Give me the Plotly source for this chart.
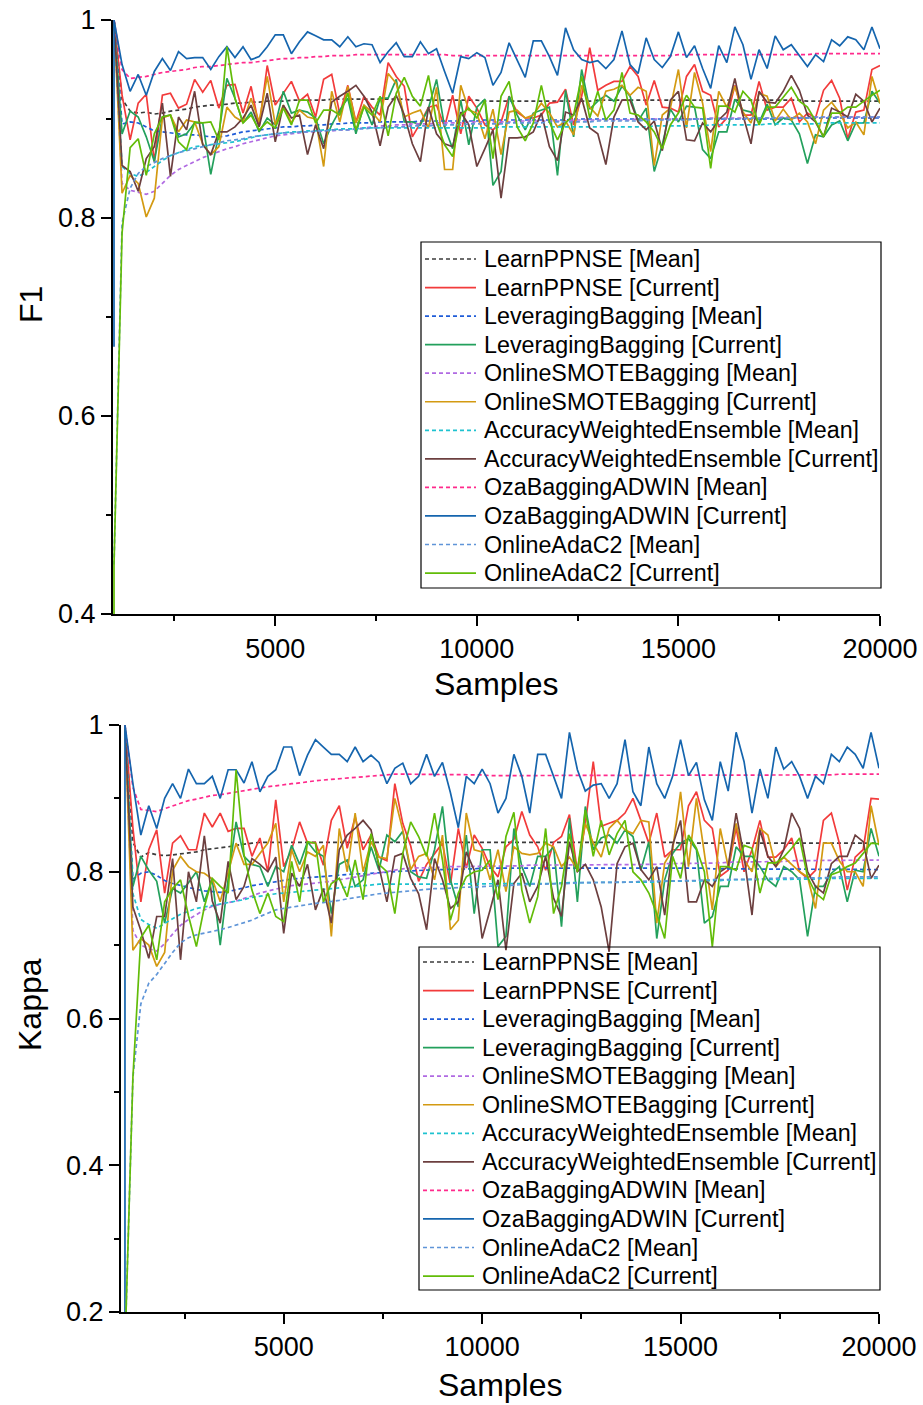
import plotly.graph_objects as go

# Evaluation points (samples seen); the 1000-sample mark is logged twice:
# once before and once after the first model update.
samples = [1000] + list(range(1000, 20001, 200))

methods = ["LearnPPNSE", "LeveragingBagging", "OnlineSMOTEBagging",
           "AccuracyWeightedEnsemble", "OzaBaggingADWIN", "OnlineAdaC2"]

# Scores logged before the first update (one per method, same order as `methods`)
f1_pre_mean = [1.0, 1.0, 1.0, 1.0, 1.0, 0.45]
f1_pre_cur = [1.0, 1.0, 1.0, 1.0, 0.67, 0.30]
k_pre_mean = [1.0, 1.0, 1.0, 1.0, 1.0, 0.15]
k_pre_cur = [1.0, 1.0, 1.0, 1.0, 0.10, 0.10]

# ---------------- F1 ----------------
f1_learn_mean = [1.0, 0.920, 0.908, 0.906, 0.907, 0.905, 0.906, 0.908, 0.909, 0.910,
                 0.912, 0.913, 0.914, 0.914, 0.915, 0.916, 0.916, 0.917, 0.917, 0.918,
                 0.918, 0.918, 0.919, 0.919, 0.919, 0.919, 0.919, 0.920, 0.920, 0.920,
                 0.920, 0.920, 0.920, 0.920, 0.920, 0.920, 0.920, 0.919, 0.919, 0.919,
                 0.919, 0.919, 0.919, 0.919, 0.919, 0.919, 0.918, 0.918, 0.918, 0.918,
                 0.918, 0.918, 0.918, 0.918, 0.918, 0.918, 0.918, 0.918, 0.918, 0.918,
                 0.919, 0.919, 0.919, 0.919, 0.919, 0.919, 0.919, 0.919, 0.919, 0.919,
                 0.919, 0.919, 0.919, 0.919, 0.919, 0.919, 0.919, 0.919, 0.919, 0.919,
                 0.919, 0.919, 0.919, 0.919, 0.919, 0.919, 0.918, 0.918, 0.918, 0.918,
                 0.918, 0.918, 0.918, 0.918, 0.918, 0.918]
f1_learn_cur = [1.0, 0.924, 0.879, 0.916, 0.925, 0.857, 0.924, 0.926, 0.911, 0.915,
                0.940, 0.927, 0.939, 0.911, 0.934, 0.935, 0.906, 0.933, 0.892, 0.954,
                0.914, 0.926, 0.938, 0.918, 0.925, 0.902, 0.940, 0.945, 0.905, 0.934,
                0.897, 0.923, 0.912, 0.904, 0.957, 0.943, 0.933, 0.882, 0.896, 0.912,
                0.914, 0.892, 0.924, 0.885, 0.923, 0.911, 0.894, 0.889, 0.897, 0.923,
                0.907, 0.901, 0.901, 0.904, 0.916, 0.917, 0.930, 0.894, 0.923, 0.972,
                0.929, 0.934, 0.938, 0.938, 0.953, 0.943, 0.914, 0.939, 0.912, 0.911,
                0.907, 0.943, 0.955, 0.928, 0.924, 0.892, 0.901, 0.934, 0.904, 0.904,
                0.938, 0.909, 0.912, 0.912, 0.921, 0.897, 0.906, 0.901, 0.929, 0.939,
                0.921, 0.880, 0.907, 0.909, 0.950, 0.954]
f1_lb_mean = [1.0, 0.895, 0.897, 0.896, 0.892, 0.888, 0.887, 0.886, 0.885, 0.884,
              0.884, 0.883, 0.882, 0.882, 0.883, 0.885, 0.887, 0.888, 0.889, 0.890,
              0.891, 0.892, 0.892, 0.893, 0.893, 0.894, 0.894, 0.895, 0.895, 0.896,
              0.896, 0.896, 0.896, 0.897, 0.897, 0.897, 0.897, 0.897, 0.898, 0.898,
              0.898, 0.898, 0.898, 0.898, 0.898, 0.898, 0.899, 0.899, 0.899, 0.899,
              0.899, 0.899, 0.899, 0.899, 0.899, 0.899, 0.899, 0.900, 0.900, 0.900,
              0.900, 0.900, 0.900, 0.900, 0.900, 0.900, 0.900, 0.900, 0.900, 0.900,
              0.900, 0.900, 0.900, 0.900, 0.900, 0.900, 0.900, 0.900, 0.900, 0.900,
              0.900, 0.900, 0.900, 0.900, 0.901, 0.901, 0.901, 0.901, 0.901, 0.901,
              0.901, 0.901, 0.901, 0.901, 0.901, 0.901]
f1_lb_cur = [1.0, 0.885, 0.908, 0.902, 0.882, 0.857, 0.902, 0.904, 0.882, 0.885,
             0.896, 0.896, 0.844, 0.885, 0.941, 0.921, 0.896, 0.907, 0.887, 0.901,
             0.894, 0.928, 0.906, 0.909, 0.907, 0.901, 0.875, 0.894, 0.909, 0.921,
             0.885, 0.914, 0.894, 0.921, 0.921, 0.940, 0.897, 0.897, 0.894, 0.911,
             0.940, 0.892, 0.870, 0.919, 0.874, 0.912, 0.920, 0.833, 0.847, 0.923,
             0.904, 0.889, 0.906, 0.909, 0.912, 0.843, 0.929, 0.882, 0.950, 0.910,
             0.918, 0.924, 0.918, 0.933, 0.923, 0.898, 0.911, 0.847, 0.874, 0.910,
             0.897, 0.913, 0.912, 0.869, 0.860, 0.887, 0.887, 0.920, 0.909, 0.907,
             0.896, 0.915, 0.894, 0.901, 0.899, 0.885, 0.855, 0.884, 0.882, 0.894,
             0.898, 0.878, 0.896, 0.896, 0.928, 0.916]
f1_osb_mean = [1.0, 0.835, 0.828, 0.826, 0.824, 0.827, 0.835, 0.843, 0.849, 0.853,
               0.857, 0.861, 0.864, 0.867, 0.870, 0.872, 0.875, 0.877, 0.879, 0.881,
               0.883, 0.884, 0.885, 0.886, 0.887, 0.887, 0.888, 0.888, 0.889, 0.889,
               0.890, 0.891, 0.892, 0.893, 0.893, 0.894, 0.894, 0.895, 0.895, 0.895,
               0.896, 0.896, 0.896, 0.896, 0.897, 0.897, 0.897, 0.897, 0.897, 0.897,
               0.898, 0.898, 0.898, 0.898, 0.898, 0.898, 0.898, 0.899, 0.899, 0.899,
               0.899, 0.899, 0.899, 0.899, 0.899, 0.900, 0.900, 0.900, 0.900, 0.900,
               0.900, 0.900, 0.900, 0.900, 0.901, 0.901, 0.901, 0.901, 0.901, 0.901,
               0.901, 0.901, 0.901, 0.902, 0.902, 0.902, 0.902, 0.902, 0.902, 0.902,
               0.902, 0.902, 0.902, 0.902, 0.902, 0.902]
f1_osb_cur = [1.0, 0.825, 0.843, 0.835, 0.801, 0.820, 0.901, 0.904, 0.887, 0.899,
              0.897, 0.875, 0.864, 0.872, 0.912, 0.902, 0.897, 0.921, 0.897, 0.943,
              0.894, 0.914, 0.896, 0.909, 0.902, 0.900, 0.852, 0.928, 0.897, 0.933,
              0.896, 0.914, 0.907, 0.897, 0.946, 0.936, 0.902, 0.906, 0.909, 0.891,
              0.932, 0.849, 0.849, 0.934, 0.909, 0.906, 0.880, 0.910, 0.864, 0.907,
              0.909, 0.901, 0.904, 0.916, 0.906, 0.892, 0.898, 0.884, 0.934, 0.912,
              0.903, 0.928, 0.930, 0.934, 0.924, 0.932, 0.928, 0.853, 0.904, 0.911,
              0.950, 0.891, 0.947, 0.916, 0.867, 0.928, 0.912, 0.933, 0.907, 0.896,
              0.926, 0.923, 0.898, 0.910, 0.899, 0.906, 0.897, 0.875, 0.909, 0.917,
              0.906, 0.891, 0.897, 0.884, 0.943, 0.916]
f1_awe_mean = [1.0, 0.852, 0.845, 0.842, 0.846, 0.852, 0.858, 0.863, 0.866, 0.869,
               0.872, 0.873, 0.874, 0.875, 0.876, 0.877, 0.879, 0.881, 0.883, 0.884,
               0.885, 0.886, 0.887, 0.887, 0.888, 0.888, 0.889, 0.889, 0.890, 0.890,
               0.890, 0.891, 0.891, 0.891, 0.891, 0.891, 0.891, 0.891, 0.891, 0.891,
               0.891, 0.891, 0.891, 0.891, 0.891, 0.891, 0.891, 0.891, 0.892, 0.892,
               0.892, 0.892, 0.892, 0.892, 0.892, 0.892, 0.892, 0.892, 0.892, 0.892,
               0.892, 0.892, 0.892, 0.892, 0.892, 0.892, 0.892, 0.893, 0.893, 0.893,
               0.893, 0.893, 0.893, 0.893, 0.894, 0.894, 0.894, 0.894, 0.894, 0.894,
               0.894, 0.895, 0.895, 0.895, 0.895, 0.895, 0.895, 0.895, 0.896, 0.896,
               0.896, 0.896, 0.896, 0.896, 0.896, 0.896]
f1_awe_cur = [1.0, 0.853, 0.847, 0.827, 0.860, 0.872, 0.916, 0.842, 0.902, 0.889,
              0.928, 0.874, 0.864, 0.887, 0.887, 0.892, 0.901, 0.914, 0.892, 0.926,
              0.877, 0.914, 0.901, 0.904, 0.864, 0.894, 0.870, 0.917, 0.923, 0.928,
              0.934, 0.923, 0.907, 0.873, 0.912, 0.924, 0.904, 0.875, 0.857, 0.912,
              0.885, 0.875, 0.872, 0.907, 0.894, 0.852, 0.870, 0.889, 0.820, 0.881,
              0.881, 0.882, 0.887, 0.906, 0.872, 0.858, 0.907, 0.904, 0.921, 0.891,
              0.885, 0.854, 0.902, 0.919, 0.919, 0.897, 0.889, 0.898, 0.868, 0.919,
              0.928, 0.879, 0.878, 0.896, 0.887, 0.899, 0.907, 0.941, 0.904, 0.875,
              0.928, 0.917, 0.916, 0.928, 0.944, 0.929, 0.904, 0.897, 0.882, 0.911,
              0.907, 0.902, 0.925, 0.918, 0.897, 0.911]
f1_oza_mean = [1.0, 0.950, 0.941, 0.942, 0.943, 0.945, 0.947, 0.948, 0.949, 0.950,
               0.952, 0.953, 0.953, 0.954, 0.955, 0.956, 0.957, 0.957, 0.958, 0.959,
               0.960, 0.961, 0.961, 0.962, 0.962, 0.963, 0.963, 0.964, 0.964, 0.964,
               0.965, 0.965, 0.965, 0.965, 0.965, 0.965, 0.965, 0.965, 0.965, 0.965,
               0.965, 0.965, 0.964, 0.964, 0.964, 0.964, 0.964, 0.964, 0.964, 0.964,
               0.964, 0.964, 0.964, 0.964, 0.964, 0.964, 0.964, 0.964, 0.964, 0.964,
               0.964, 0.964, 0.964, 0.964, 0.964, 0.964, 0.964, 0.964, 0.964, 0.964,
               0.965, 0.965, 0.965, 0.965, 0.965, 0.965, 0.965, 0.965, 0.965, 0.965,
               0.965, 0.965, 0.965, 0.965, 0.965, 0.965, 0.965, 0.966, 0.966, 0.966,
               0.966, 0.966, 0.966, 0.966, 0.966, 0.966]
f1_oza_cur = [1.0, 0.955, 0.928, 0.945, 0.924, 0.948, 0.961, 0.949, 0.968, 0.961,
              0.962, 0.962, 0.950, 0.963, 0.973, 0.962, 0.973, 0.960, 0.963, 0.973,
              0.985, 0.985, 0.966, 0.978, 0.988, 0.984, 0.980, 0.980, 0.973, 0.983,
              0.973, 0.976, 0.975, 0.957, 0.968, 0.977, 0.963, 0.963, 0.978, 0.966,
              0.971, 0.948, 0.926, 0.963, 0.961, 0.967, 0.962, 0.934, 0.947, 0.977,
              0.960, 0.942, 0.979, 0.979, 0.963, 0.944, 0.992, 0.970, 0.960, 0.957,
              0.959, 0.951, 0.960, 0.989, 0.955, 0.946, 0.982, 0.960, 0.952, 0.963,
              0.988, 0.962, 0.974, 0.951, 0.931, 0.974, 0.957, 0.993, 0.975, 0.940,
              0.970, 0.951, 0.984, 0.970, 0.975, 0.964, 0.953, 0.965, 0.958, 0.980,
              0.974, 0.983, 0.980, 0.970, 0.993, 0.971]
f1_ada_mean = [0.450, 0.795, 0.830, 0.845, 0.852, 0.856, 0.860, 0.863, 0.866, 0.868,
               0.870, 0.872, 0.874, 0.876, 0.878, 0.879, 0.880, 0.882, 0.883, 0.884,
               0.885, 0.886, 0.886, 0.887, 0.887, 0.888, 0.888, 0.889, 0.889, 0.889,
               0.890, 0.890, 0.891, 0.891, 0.892, 0.892, 0.892, 0.893, 0.893, 0.893,
               0.894, 0.894, 0.894, 0.894, 0.895, 0.895, 0.895, 0.895, 0.895, 0.896,
               0.896, 0.896, 0.896, 0.896, 0.897, 0.897, 0.897, 0.897, 0.897, 0.897,
               0.898, 0.898, 0.898, 0.898, 0.898, 0.898, 0.899, 0.899, 0.899, 0.899,
               0.899, 0.899, 0.900, 0.900, 0.900, 0.900, 0.900, 0.900, 0.900, 0.901,
               0.901, 0.901, 0.901, 0.901, 0.901, 0.901, 0.901, 0.902, 0.902, 0.902,
               0.902, 0.902, 0.902, 0.902, 0.902, 0.902]
f1_ada_cur = [0.450, 0.785, 0.871, 0.880, 0.843, 0.885, 0.902, 0.904, 0.877, 0.869,
              0.897, 0.896, 0.897, 0.879, 0.973, 0.921, 0.896, 0.904, 0.889, 0.897,
              0.891, 0.911, 0.894, 0.919, 0.919, 0.896, 0.909, 0.909, 0.904, 0.926,
              0.889, 0.912, 0.904, 0.923, 0.883, 0.926, 0.942, 0.923, 0.913, 0.944,
              0.897, 0.874, 0.862, 0.904, 0.911, 0.901, 0.919, 0.860, 0.923, 0.938,
              0.892, 0.878, 0.896, 0.934, 0.897, 0.879, 0.896, 0.904, 0.943, 0.901,
              0.928, 0.899, 0.909, 0.947, 0.906, 0.904, 0.897, 0.887, 0.870, 0.894,
              0.906, 0.924, 0.912, 0.911, 0.850, 0.913, 0.913, 0.907, 0.928, 0.919,
              0.894, 0.912, 0.912, 0.922, 0.932, 0.918, 0.912, 0.898, 0.882, 0.906,
              0.906, 0.912, 0.912, 0.918, 0.924, 0.929]

# ---------------- Kappa ----------------
k_learn_mean = [1.0, 0.840, 0.820, 0.826, 0.823, 0.822, 0.823, 0.824, 0.825, 0.827,
                0.830, 0.831, 0.833, 0.834, 0.836, 0.838, 0.839, 0.840, 0.840, 0.841,
                0.841, 0.841, 0.841, 0.841, 0.841, 0.841, 0.841, 0.841, 0.841, 0.841,
                0.841, 0.841, 0.841, 0.841, 0.841, 0.841, 0.841, 0.841, 0.841, 0.841,
                0.840, 0.840, 0.840, 0.840, 0.840, 0.840, 0.840, 0.840, 0.840, 0.840,
                0.840, 0.840, 0.840, 0.840, 0.840, 0.840, 0.840, 0.840, 0.840, 0.840,
                0.840, 0.840, 0.840, 0.840, 0.840, 0.840, 0.840, 0.840, 0.840, 0.840,
                0.839, 0.839, 0.839, 0.839, 0.839, 0.839, 0.839, 0.839, 0.839, 0.839,
                0.839, 0.839, 0.839, 0.839, 0.839, 0.839, 0.839, 0.839, 0.839, 0.839,
                0.839, 0.839, 0.839, 0.839, 0.839, 0.839]
k_learn_cur = [1.0, 0.860, 0.759, 0.830, 0.857, 0.771, 0.839, 0.849, 0.830, 0.830,
               0.880, 0.861, 0.880, 0.855, 0.859, 0.859, 0.821, 0.846, 0.800, 0.898,
               0.807, 0.830, 0.868, 0.839, 0.840, 0.809, 0.870, 0.890, 0.832, 0.875,
               0.830, 0.850, 0.820, 0.815, 0.920, 0.866, 0.835, 0.787, 0.810, 0.825,
               0.839, 0.782, 0.859, 0.805, 0.850, 0.832, 0.807, 0.793, 0.834, 0.844,
               0.882, 0.850, 0.834, 0.802, 0.840, 0.848, 0.878, 0.800, 0.866, 0.950,
               0.862, 0.866, 0.870, 0.880, 0.900, 0.870, 0.839, 0.880, 0.820, 0.830,
               0.830, 0.890, 0.909, 0.870, 0.859, 0.794, 0.802, 0.860, 0.800, 0.830,
               0.870, 0.820, 0.820, 0.830, 0.846, 0.800, 0.791, 0.802, 0.870, 0.880,
               0.839, 0.775, 0.820, 0.830, 0.900, 0.899]
k_lb_mean = [1.0, 0.790, 0.798, 0.800, 0.795, 0.788, 0.784, 0.781, 0.778, 0.776,
             0.774, 0.773, 0.772, 0.773, 0.775, 0.778, 0.781, 0.783, 0.785, 0.787,
             0.789, 0.790, 0.791, 0.792, 0.793, 0.794, 0.795, 0.795, 0.796, 0.797,
             0.797, 0.798, 0.799, 0.800, 0.800, 0.801, 0.801, 0.802, 0.802, 0.803,
             0.803, 0.803, 0.804, 0.804, 0.804, 0.805, 0.805, 0.805, 0.805, 0.806,
             0.806, 0.806, 0.806, 0.806, 0.806, 0.806, 0.806, 0.806, 0.806, 0.806,
             0.806, 0.806, 0.806, 0.806, 0.806, 0.806, 0.805, 0.805, 0.805, 0.805,
             0.805, 0.805, 0.805, 0.805, 0.804, 0.804, 0.804, 0.804, 0.804, 0.804,
             0.804, 0.804, 0.803, 0.803, 0.803, 0.803, 0.803, 0.803, 0.803, 0.803,
             0.803, 0.803, 0.803, 0.803, 0.803, 0.803]
k_lb_cur = [1.0, 0.780, 0.821, 0.802, 0.787, 0.730, 0.777, 0.771, 0.785, 0.800,
            0.759, 0.790, 0.700, 0.790, 0.868, 0.821, 0.810, 0.807, 0.780, 0.807,
            0.800, 0.836, 0.810, 0.841, 0.827, 0.821, 0.743, 0.810, 0.816, 0.780,
            0.789, 0.834, 0.802, 0.850, 0.841, 0.855, 0.800, 0.793, 0.791, 0.830,
            0.889, 0.789, 0.752, 0.850, 0.743, 0.830, 0.830, 0.698, 0.712, 0.859,
            0.807, 0.780, 0.821, 0.821, 0.834, 0.725, 0.873, 0.759, 0.889, 0.830,
            0.846, 0.850, 0.839, 0.857, 0.848, 0.802, 0.841, 0.709, 0.789, 0.825,
            0.839, 0.845, 0.830, 0.730, 0.739, 0.780, 0.780, 0.834, 0.821, 0.821,
            0.807, 0.789, 0.780, 0.807, 0.800, 0.789, 0.712, 0.780, 0.780, 0.798,
            0.807, 0.759, 0.802, 0.800, 0.859, 0.821]
k_osb_mean = [1.0, 0.720, 0.700, 0.695, 0.692, 0.702, 0.715, 0.727, 0.735, 0.742,
              0.748, 0.753, 0.756, 0.758, 0.760, 0.763, 0.767, 0.771, 0.774, 0.777,
              0.779, 0.781, 0.782, 0.783, 0.784, 0.786, 0.787, 0.789, 0.791, 0.793,
              0.795, 0.797, 0.799, 0.801, 0.803, 0.804, 0.805, 0.805, 0.806, 0.806,
              0.806, 0.807, 0.807, 0.807, 0.807, 0.808, 0.808, 0.808, 0.808, 0.808,
              0.808, 0.809, 0.809, 0.809, 0.809, 0.809, 0.809, 0.809, 0.809, 0.809,
              0.809, 0.809, 0.809, 0.809, 0.810, 0.810, 0.810, 0.810, 0.811, 0.811,
              0.811, 0.811, 0.812, 0.812, 0.812, 0.812, 0.813, 0.813, 0.813, 0.813,
              0.814, 0.814, 0.814, 0.814, 0.815, 0.815, 0.815, 0.815, 0.815, 0.815,
              0.816, 0.816, 0.816, 0.816, 0.816, 0.816]
k_osb_cur = [1.0, 0.693, 0.709, 0.700, 0.671, 0.690, 0.802, 0.821, 0.807, 0.800,
             0.798, 0.790, 0.759, 0.800, 0.839, 0.810, 0.810, 0.825, 0.839, 0.866,
             0.759, 0.830, 0.800, 0.827, 0.821, 0.836, 0.712, 0.859, 0.800, 0.880,
             0.800, 0.841, 0.820, 0.818, 0.900, 0.857, 0.803, 0.821, 0.825, 0.789,
             0.850, 0.721, 0.734, 0.880, 0.830, 0.827, 0.789, 0.830, 0.773, 0.834,
             0.825, 0.823, 0.825, 0.839, 0.834, 0.807, 0.820, 0.803, 0.866, 0.839,
             0.820, 0.859, 0.870, 0.857, 0.852, 0.870, 0.868, 0.730, 0.812, 0.830,
             0.909, 0.807, 0.900, 0.825, 0.748, 0.859, 0.807, 0.866, 0.816, 0.800,
             0.859, 0.850, 0.807, 0.820, 0.810, 0.800, 0.793, 0.750, 0.839, 0.839,
             0.815, 0.800, 0.800, 0.780, 0.890, 0.836]
k_awe_mean = [1.0, 0.770, 0.735, 0.728, 0.723, 0.730, 0.736, 0.742, 0.746, 0.750,
              0.752, 0.754, 0.756, 0.758, 0.759, 0.762, 0.765, 0.767, 0.769, 0.770,
              0.771, 0.772, 0.773, 0.774, 0.775, 0.776, 0.777, 0.778, 0.779, 0.780,
              0.781, 0.782, 0.783, 0.783, 0.783, 0.783, 0.783, 0.783, 0.783, 0.783,
              0.783, 0.784, 0.784, 0.784, 0.784, 0.784, 0.784, 0.784, 0.784, 0.784,
              0.784, 0.784, 0.784, 0.784, 0.784, 0.785, 0.785, 0.785, 0.785, 0.785,
              0.785, 0.785, 0.785, 0.785, 0.786, 0.786, 0.786, 0.786, 0.787, 0.787,
              0.787, 0.787, 0.788, 0.788, 0.788, 0.788, 0.789, 0.789, 0.789, 0.789,
              0.789, 0.790, 0.790, 0.790, 0.790, 0.790, 0.790, 0.790, 0.791, 0.791,
              0.791, 0.791, 0.791, 0.791, 0.791, 0.791]
k_awe_cur = [1.0, 0.752, 0.720, 0.682, 0.739, 0.739, 0.818, 0.680, 0.800, 0.759,
             0.849, 0.760, 0.730, 0.814, 0.762, 0.780, 0.818, 0.810, 0.800, 0.820,
             0.716, 0.798, 0.780, 0.810, 0.748, 0.777, 0.730, 0.830, 0.850, 0.859,
             0.870, 0.857, 0.807, 0.759, 0.821, 0.825, 0.791, 0.770, 0.721, 0.818,
             0.789, 0.750, 0.759, 0.827, 0.802, 0.709, 0.748, 0.789, 0.693, 0.784,
             0.798, 0.759, 0.780, 0.821, 0.764, 0.739, 0.841, 0.800, 0.810, 0.789,
             0.752, 0.691, 0.811, 0.834, 0.839, 0.803, 0.789, 0.807, 0.741, 0.836,
             0.870, 0.759, 0.759, 0.789, 0.780, 0.800, 0.807, 0.880, 0.821, 0.741,
             0.857, 0.821, 0.807, 0.830, 0.880, 0.859, 0.800, 0.780, 0.771, 0.811,
             0.821, 0.821, 0.850, 0.841, 0.791, 0.809]
k_oza_mean = [1.0, 0.915, 0.885, 0.884, 0.882, 0.886, 0.890, 0.894, 0.897, 0.899,
              0.902, 0.904, 0.905, 0.907, 0.909, 0.911, 0.913, 0.914, 0.916, 0.917,
              0.919, 0.920, 0.921, 0.923, 0.924, 0.925, 0.926, 0.927, 0.928, 0.929,
              0.930, 0.931, 0.932, 0.932, 0.933, 0.933, 0.933, 0.933, 0.933, 0.933,
              0.932, 0.932, 0.932, 0.932, 0.932, 0.932, 0.931, 0.931, 0.931, 0.931,
              0.931, 0.931, 0.931, 0.931, 0.931, 0.931, 0.931, 0.931, 0.931, 0.931,
              0.931, 0.931, 0.931, 0.931, 0.931, 0.931, 0.931, 0.931, 0.931, 0.931,
              0.931, 0.931, 0.931, 0.931, 0.931, 0.931, 0.932, 0.932, 0.932, 0.932,
              0.932, 0.932, 0.932, 0.932, 0.932, 0.932, 0.932, 0.932, 0.932, 0.932,
              0.933, 0.933, 0.933, 0.933, 0.933, 0.933]
k_oza_cur = [1.0, 0.920, 0.850, 0.890, 0.859, 0.900, 0.920, 0.900, 0.940, 0.920,
             0.920, 0.930, 0.900, 0.939, 0.939, 0.921, 0.950, 0.909, 0.930, 0.939,
             0.970, 0.970, 0.931, 0.959, 0.980, 0.970, 0.960, 0.960, 0.950, 0.970,
             0.950, 0.959, 0.949, 0.920, 0.941, 0.948, 0.920, 0.930, 0.960, 0.930,
             0.949, 0.908, 0.860, 0.930, 0.920, 0.940, 0.920, 0.880, 0.900, 0.960,
             0.930, 0.880, 0.960, 0.960, 0.930, 0.900, 0.990, 0.939, 0.910, 0.918,
             0.920, 0.900, 0.920, 0.980, 0.909, 0.890, 0.970, 0.920, 0.900, 0.930,
             0.980, 0.931, 0.949, 0.898, 0.870, 0.950, 0.910, 0.990, 0.950, 0.880,
             0.940, 0.900, 0.970, 0.940, 0.950, 0.930, 0.900, 0.930, 0.920, 0.960,
             0.950, 0.970, 0.960, 0.941, 0.990, 0.941]
k_ada_mean = [0.150, 0.520, 0.620, 0.648, 0.660, 0.675, 0.690, 0.703, 0.710, 0.714,
              0.716, 0.718, 0.721, 0.724, 0.727, 0.730, 0.734, 0.739, 0.744, 0.748,
              0.750, 0.752, 0.754, 0.756, 0.757, 0.758, 0.759, 0.761, 0.763, 0.765,
              0.767, 0.768, 0.770, 0.771, 0.772, 0.773, 0.774, 0.775, 0.776, 0.777,
              0.777, 0.778, 0.778, 0.779, 0.779, 0.780, 0.780, 0.781, 0.781, 0.782,
              0.782, 0.783, 0.783, 0.783, 0.784, 0.784, 0.784, 0.785, 0.785, 0.785,
              0.786, 0.786, 0.786, 0.786, 0.786, 0.787, 0.787, 0.787, 0.787, 0.788,
              0.788, 0.788, 0.788, 0.789, 0.789, 0.789, 0.789, 0.790, 0.790, 0.790,
              0.790, 0.791, 0.791, 0.791, 0.791, 0.792, 0.792, 0.792, 0.792, 0.792,
              0.793, 0.793, 0.793, 0.793, 0.793, 0.793]
k_ada_cur = [0.150, 0.520, 0.710, 0.727, 0.680, 0.759, 0.777, 0.789, 0.740, 0.698,
             0.752, 0.791, 0.780, 0.771, 0.939, 0.823, 0.775, 0.743, 0.771, 0.739,
             0.732, 0.814, 0.759, 0.841, 0.839, 0.759, 0.784, 0.791, 0.766, 0.816,
             0.762, 0.852, 0.810, 0.800, 0.743, 0.825, 0.868, 0.848, 0.821, 0.880,
             0.816, 0.734, 0.771, 0.793, 0.800, 0.802, 0.816, 0.762, 0.848, 0.881,
             0.775, 0.730, 0.766, 0.859, 0.743, 0.780, 0.852, 0.800, 0.884, 0.821,
             0.870, 0.823, 0.852, 0.870, 0.800, 0.789, 0.771, 0.743, 0.709, 0.821,
             0.791, 0.850, 0.832, 0.800, 0.698, 0.807, 0.807, 0.802, 0.836, 0.832,
             0.771, 0.812, 0.812, 0.820, 0.832, 0.846, 0.793, 0.771, 0.762, 0.796,
             0.800, 0.807, 0.812, 0.825, 0.839, 0.838]

f1_series = [(f1_learn_mean, f1_learn_cur), (f1_lb_mean, f1_lb_cur),
             (f1_osb_mean, f1_osb_cur), (f1_awe_mean, f1_awe_cur),
             (f1_oza_mean, f1_oza_cur), (f1_ada_mean, f1_ada_cur)]
kappa_series = [(k_learn_mean, k_learn_cur), (k_lb_mean, k_lb_cur),
                (k_osb_mean, k_osb_cur), (k_awe_mean, k_awe_cur),
                (k_oza_mean, k_oza_cur), (k_ada_mean, k_ada_cur)]

# (mean colour, current colour) per method
palette = [("#3c3c3c", "#f23b3b"), ("#1f5cd8", "#23a05c"), ("#b06ae2", "#d39a12"),
           ("#1ec2d0", "#6c3f3f"), ("#ff2a8c", "#1565ae"), ("#5f95d8", "#62bc08")]
MEAN_DASH = "4px,3px"
LINE_W = 1.7

FONT = "Liberation Sans, Arial, sans-serif"
W, H = 923, 1405

fig = go.Figure()


def add_panel(series, pre_mean, pre_cur, xa, ya):
    for i, (name, (mean_vals, cur_vals), (c_mean, c_cur)) in enumerate(zip(methods, series, palette)):
        fig.add_trace(go.Scatter(
            x=samples, y=[pre_mean[i]] + mean_vals, mode="lines", name=f"{name} [Mean]",
            xaxis=xa, yaxis=ya, showlegend=False,
            line=dict(color=c_mean, width=LINE_W, dash=MEAN_DASH)))
        fig.add_trace(go.Scatter(
            x=samples, y=[pre_cur[i]] + cur_vals, mode="lines", name=f"{name} [Current]",
            xaxis=xa, yaxis=ya, showlegend=False,
            line=dict(color=c_cur, width=LINE_W)))


add_panel(f1_series, f1_pre_mean, f1_pre_cur, "x", "y")
add_panel(kappa_series, k_pre_mean, k_pre_cur, "x2", "y2")


def add_key(left, top, right, bottom, first_row, row_step):
    """Boxed key listing each method's mean and current line styles (pixel layout)."""
    fig.add_shape(type="rect", xref="paper", yref="paper",
                  x0=left / W, x1=right / W, y0=1 - bottom / H, y1=1 - top / H,
                  line=dict(color="black", width=1.2), fillcolor="rgba(0,0,0,0)")
    row = 0
    for name, (c_mean, c_cur) in zip(methods, palette):
        for kind, color, dash in (("Mean", c_mean, MEAN_DASH), ("Current", c_cur, "solid")):
            yy = 1 - (first_row + row * row_step) / H
            fig.add_shape(type="line", xref="paper", yref="paper",
                          x0=(left + 4) / W, x1=(left + 55) / W, y0=yy, y1=yy,
                          line=dict(color=color, width=LINE_W, dash=dash))
            fig.add_annotation(text=f"{name} [{kind}]", xref="paper", yref="paper",
                               x=(left + 61) / W, y=yy, xanchor="left", yanchor="middle",
                               showarrow=False,
                               font=dict(family=FONT, size=23.3, color="black"))
            row += 1


add_key(421, 242, 881, 588, 259, 28.55)
add_key(419, 947, 880, 1290, 962, 28.55)

axis_common = dict(
    showline=True, linecolor="black", linewidth=2, mirror=False,
    ticks="outside", ticklen=10, tickwidth=1.5, tickcolor="black",
    showgrid=False, zeroline=False, automargin=False,
    tickfont=dict(family=FONT, size=27, color="black"),
)
minor_x = dict(ticks="outside", ticklen=5, tickwidth=1.5, dtick=2500, tickcolor="black")
minor_y = dict(ticks="outside", ticklen=5, tickwidth=1.5, dtick=0.1, tickcolor="black")

fig.update_layout(
    width=W, height=H, autosize=False,
    margin=dict(l=0, r=0, t=0, b=0, pad=0, autoexpand=False),
    paper_bgcolor="white", plot_bgcolor="white",
    showlegend=False,
    xaxis=dict(axis_common, domain=[113 / W, 880 / W], range=[975, 20000], anchor="y",
               tick0=0, dtick=5000, tickformat="d", minor=minor_x),
    yaxis=dict(axis_common, domain=[1 - 614 / H, 1 - 20 / H], range=[0.4, 1.0], anchor="x",
               tick0=0, dtick=0.2, minor=minor_y),
    xaxis2=dict(axis_common, domain=[121 / W, 879 / W], range=[900, 20000], anchor="y2",
                tick0=0, dtick=5000, tickformat="d", minor=minor_x),
    yaxis2=dict(axis_common, domain=[1 - 1312 / H, 1 - 725 / H], range=[0.2, 1.0], anchor="x2",
                tick0=0, dtick=0.2, minor=minor_y),
)

title_font = dict(family=FONT, size=32, color="black")
for text, px, py, angle in (("F1", 31, 304, -90),
                            ("Samples", (113 + 880) / 2, 684, 0),
                            ("Kappa", 30, 1004, -90),
                            ("Samples", (121 + 879) / 2, 1385, 0)):
    fig.add_annotation(text=text, x=px / W, y=1 - py / H, xref="paper", yref="paper",
                       xanchor="center", yanchor="middle", showarrow=False,
                       textangle=angle, font=title_font)

fig.write_html("out.html")
